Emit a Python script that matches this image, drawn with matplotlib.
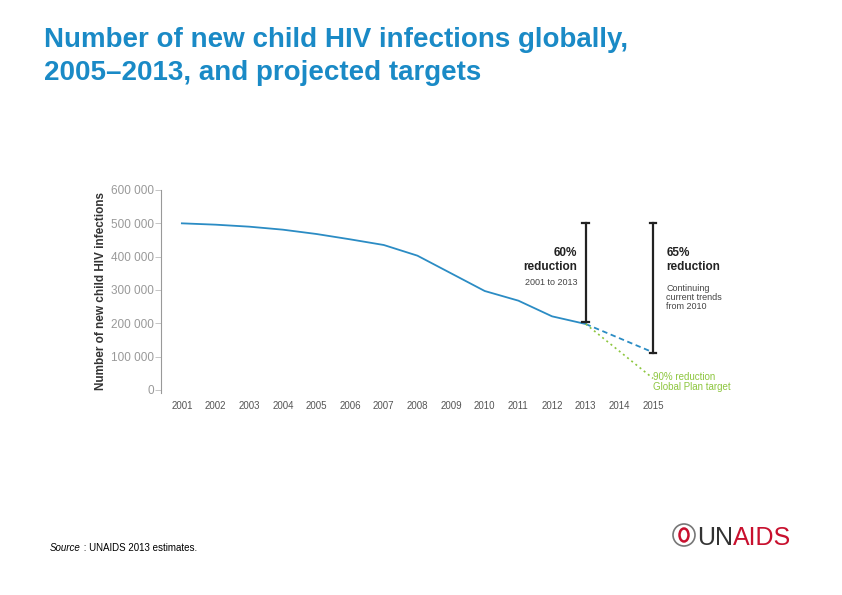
import numpy as np
import matplotlib.pyplot as plt
from matplotlib.patches import Ellipse

plt.rcParams['font.family'] = ['Liberation Sans', 'DejaVu Sans']

# estimated new child HIV infections
years = [2001, 2002, 2003, 2004, 2005, 2006, 2007, 2008, 2009, 2010, 2011, 2012, 2013]
infections = [500000, 496000, 490000, 481000, 468000, 452000, 435000, 403000, 350000,
              297000, 268000, 221000, 198000]

trend_years = [2013, 2015]
trend_values = [198000, 113000]
target_years = [2013, 2015]
target_values = [198000, 35000]

bar_years = [2013, 2015]
bar_tops = [500000, 500000]
bar_bottoms = [205000, 112000]

y_ticks = [0, 100000, 200000, 300000, 400000, 500000, 600000]
y_labels = ['0', '100 000', '200 000', '300 000', '400 000', '500 000', '600 000']
x_ticks = list(range(2001, 2016))

blue = '#2b8cc4'
green = '#8dc63f'
dark = '#222222'

fig = plt.figure(figsize=(8.42, 5.95), dpi=100)

# title
fig.text(44 / 842, 1 - 47 / 595, 'Number of new child HIV infections globally,',
         color='#1a8ac6', fontsize=20, fontweight='bold', va='baseline')
fig.text(44 / 842, 1 - 80 / 595, '2005\u20132013, and projected targets',
         color='#1a8ac6', fontsize=20, fontweight='bold', va='baseline')

ax = fig.add_axes([161 / 842, 1 - 393 / 595, (760 - 161) / 842, 203 / 595])
ax.set_xlim(2000.38, 2018.18)
ax.set_ylim(-9000, 600000)

ax.plot(years, infections, color=blue, lw=1.3)
ax.plot(trend_years, trend_values, color=blue, lw=1.3, ls=(0, (3, 2)))
ax.plot(target_years, target_values, color=green, lw=1.2, ls=(0, (1.2, 2)))

for x, top, bot in zip(bar_years, bar_tops, bar_bottoms):
    ax.plot([x, x], [bot, top], color=dark, lw=1.6)
    ax.plot([x - 0.1, x + 0.1], [top, top], color=dark, lw=1.6)
    ax.plot([x - 0.1, x + 0.1], [bot, bot], color=dark, lw=1.6)

# annotations
ax.text(2012.75, 412000, '60%', ha='right', va='center', fontsize=8.5, fontweight='bold', color=dark)
ax.text(2012.75, 370000, 'reduction', ha='right', va='center', fontsize=8.5, fontweight='bold', color=dark)
ax.text(2012.75, 322000, '2001 to 2013', ha='right', va='center', fontsize=6.5, color='#444444')

ax.text(2015.4, 412000, '65%', ha='left', va='center', fontsize=8.5, fontweight='bold', color=dark)
ax.text(2015.4, 370000, 'reduction', ha='left', va='center', fontsize=8.5, fontweight='bold', color=dark)
ax.text(2015.4, 319000, 'Continuing\ncurrent trends\nfrom 2010', ha='left', va='top',
        fontsize=6.5, color='#444444', linespacing=1.05)
ax.text(2015.0, 55000, '90% reduction\nGlobal Plan target', ha='left', va='top',
        fontsize=7, color=green, linespacing=1.05, clip_on=False)

ax.set_yticks(y_ticks)
ax.set_yticklabels(y_labels)
ax.set_xticks(x_ticks)
ax.set_xticklabels([str(y) for y in x_ticks])
ax.tick_params(axis='y', length=4, width=0.6, color='#bbbbbb', labelcolor='#999999',
               labelsize=8.5, pad=1)
ax.tick_params(axis='x', length=0, labelcolor='#555555', labelsize=7, pad=6)
for s in ['top', 'right', 'bottom']:
    ax.spines[s].set_visible(False)
ax.spines['left'].set_color('#999999')
ax.spines['left'].set_linewidth(0.8)
ax.set_ylabel('Number of new child HIV infections', fontsize=8.5, color='#333333',
              fontweight='bold')
ax.yaxis.set_label_coords(-0.09, 0.5)

# source
src = fig.text(50 / 842, 1 - 551 / 595, 'Source', fontstyle='italic', fontsize=7,
               color='black', va='baseline')
ax.annotate(' : UNAIDS 2013 estimates.', xy=(1, 0), xycoords=src, va='bottom',
            fontsize=7, color='black', annotation_clip=False)

# logo
cx, cy = 684 / 842, 1 - 535 / 595
fig.patches.append(Ellipse((cx, cy), 22 / 842, 22 / 595, transform=fig.transFigure,
                           fill=False, ec='#777777', lw=1.2))
fig.patches.append(Ellipse((cx, cy), 9 / 842, 13 / 595, transform=fig.transFigure,
                           fill=False, ec='#c8102e', lw=1.8))
un = fig.text(697 / 842, 1 - 545 / 595, 'UN', fontsize=18, color='#333333', va='baseline')
ax.annotate('AIDS', xy=(1, 0), xycoords=un, va='bottom', fontsize=18, color='#c8102e',
            annotation_clip=False)

fig.savefig('out.png', dpi=100)
